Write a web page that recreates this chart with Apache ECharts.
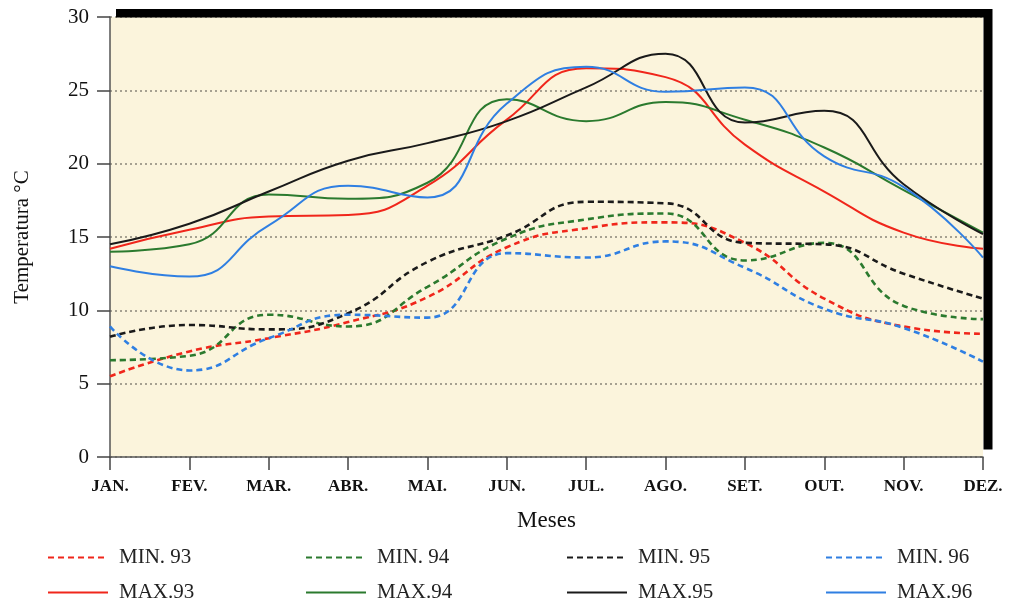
<!DOCTYPE html>
<html>
<head>
<meta charset="utf-8">
<script src="https://cdn.jsdelivr.net/npm/echarts@6/dist/echarts.min.js"></script>
<style>html,body{margin:0;padding:0;background:#fff;}#c{width:1010px;height:604px;}</style>
</head>
<body>
<div id="c"></div>
<script>
const months = ['JAN.','FEV.','MAR.','ABR.','MAI.','JUN.','JUL.','AGO.','SET.','OUT.','NOV.','DEZ.'];
const min93 = [5.5, 7.2, 8.1, 9.2, 10.9, 14.3, 15.6, 16.0, 14.6, 10.8, 8.9, 8.4];
const min94 = [6.6, 6.9, 9.7, 8.9, 11.6, 14.9, 16.2, 16.6, 13.4, 14.6, 10.3, 9.4];
const min95 = [8.2, 9.0, 8.7, 9.8, 13.3, 15.1, 17.4, 17.3, 14.6, 14.5, 12.5, 10.8];
const min96 = [8.9, 5.9, 8.1, 9.7, 9.5, 13.9, 13.6, 14.7, 12.9, 10.1, 8.8, 6.5];
const max93 = [14.2, 15.5, 16.4, 16.5, 18.5, 23.0, 26.5, 25.9, 21.3, 18.1, 15.3, 14.2];
const max94 = [14.0, 14.5, 17.9, 17.6, 18.7, 24.4, 22.9, 24.2, 23.0, 21.1, 18.2, 15.3];
const max95 = [14.5, 15.9, 18.1, 20.2, 21.4, 22.9, 25.2, 27.5, 22.8, 23.6, 18.6, 15.2];
const max96 = [13.0, 12.3, 15.8, 18.5, 17.7, 24.1, 26.6, 24.9, 25.2, 20.5, 18.4, 13.6];
const yTicks = [0, 5, 10, 15, 20, 25, 30];

const FONT = '"Liberation Serif", "Times New Roman", serif';
const C = {r:'#f0261b', g:'#2b7a2e', k:'#1a1a1a', b:'#2f7fe2'};
const G = {left:110, top:17, right:983, bottom:457};

function ser(name, data, color, dashed){
  return {
    name, type:'line', data, smooth:0.5, symbol:'none', showSymbol:false,
    lineStyle:{color, width: dashed?2.6:2, type: dashed?[6,4]:'solid'},
    itemStyle:{color}, z: dashed?3:4
  };
}
function leg(left, names){
  return {
    orient:'vertical', left, top:547, bottom:0, padding:0,
    itemWidth:60, itemHeight:14, itemGap:14,
    data:names,
    itemStyle:{opacity:0, borderWidth:0},
    textStyle:{fontFamily:FONT, fontSize:21, color:'#222', padding:[0,0,0,6]},
    selectedMode:false
  };
}
const chart = echarts.init(document.getElementById('c'), null, {renderer:'canvas'});
chart.setOption({
  backgroundColor:'#ffffff',
  animation:false,
  grid:{left:G.left, top:G.top, width:G.right-G.left, height:G.bottom-G.top,
        show:true, backgroundColor:'#fbf4dc', borderWidth:0},
  xAxis:{
    type:'category', data:months, boundaryGap:false,
    axisLine:{show:true, lineStyle:{color:'#555', width:1.5}},
    axisTick:{show:true, inside:false, length:13, lineStyle:{color:'#444', width:1.5}},
    axisLabel:{fontFamily:FONT, fontSize:17, fontWeight:'bold', color:'#111', margin:21},
    splitLine:{show:false},
    name:'Meses', nameLocation:'middle', nameGap:52,
    nameTextStyle:{fontFamily:FONT, fontSize:23, color:'#111'}
  },
  yAxis:{
    type:'value', min:yTicks[0], max:yTicks[yTicks.length-1], interval:5,
    axisLine:{show:true, lineStyle:{color:'#555', width:1.5}},
    axisTick:{show:true, inside:false, length:13, lineStyle:{color:'#444', width:1.5}},
    axisLabel:{fontFamily:FONT, fontSize:21, color:'#111', margin:21},
    splitLine:{show:true, lineStyle:{color:'#8a8578', width:1.6, type:[2,3]}},
    name:'Temperatura °C', nameLocation:'middle', nameGap:77, nameRotate:90,
    nameTextStyle:{fontFamily:FONT, fontSize:21, color:'#111'}
  },
  legend:[
    leg(47, ['MIN. 93','MAX.93']),
    leg(305, ['MIN. 94','MAX.94']),
    leg(566, ['MIN. 95','MAX.95']),
    leg(825, ['MIN. 96','MAX.96'])
  ],
  graphic:[
    {type:'rect', shape:{x:G.left+6, y:G.top-8, width:G.right-G.left+3, height:8.5}, style:{fill:'#000'}, z:100},
    {type:'rect', shape:{x:G.right+0.5, y:G.top-8, width:9, height:G.bottom-G.top+0.5}, style:{fill:'#000'}, z:100}
  ],
  series:[
    ser('MIN. 93', min93, C.r, true),
    ser('MIN. 94', min94, C.g, true),
    ser('MIN. 95', min95, C.k, true),
    ser('MIN. 96', min96, C.b, true),
    ser('MAX.93', max93, C.r, false),
    ser('MAX.94', max94, C.g, false),
    ser('MAX.95', max95, C.k, false),
    ser('MAX.96', max96, C.b, false)
  ]
});
</script>
</body>
</html>
